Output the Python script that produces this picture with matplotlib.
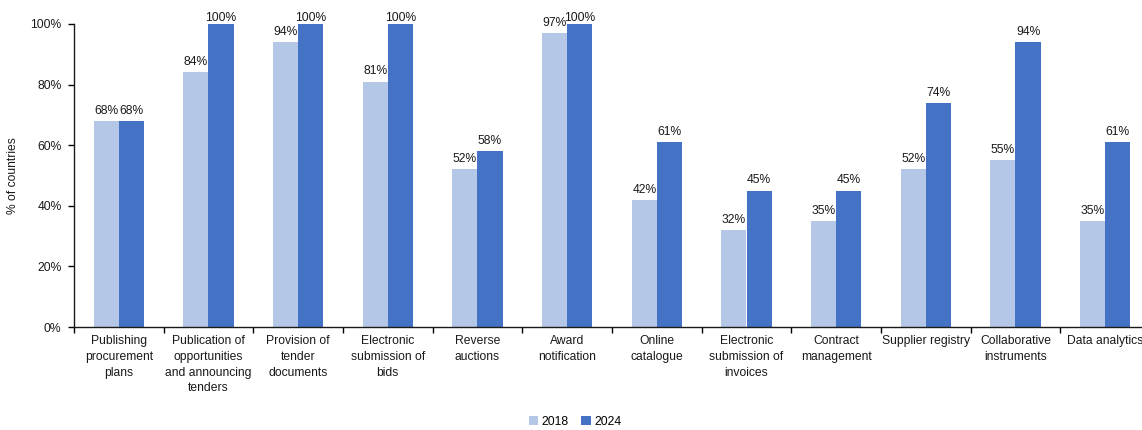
import matplotlib
matplotlib.use("Agg")
import matplotlib.pyplot as plt
import numpy as np

categories = [
    "Publishing\nprocurement\nplans",
    "Publication of\nopportunities\nand announcing\ntenders",
    "Provision of\ntender\ndocuments",
    "Electronic\nsubmission of\nbids",
    "Reverse\nauctions",
    "Award\nnotification",
    "Online\ncatalogue",
    "Electronic\nsubmission of\ninvoices",
    "Contract\nmanagement",
    "Supplier registry",
    "Collaborative\ninstruments",
    "Data analytics",
]
values_2018 = [68, 84, 94, 81, 52, 97, 42, 32, 35, 52, 55, 35]
values_2024 = [68, 100, 100, 100, 58, 100, 61, 45, 45, 74, 94, 61]
series_labels = ["2018", "2024"]
y_ticks = [0, 20, 40, 60, 80, 100]

plt.rcParams["font.family"] = ["Liberation Sans", "DejaVu Sans"]
fs = 8.7
plt.rcParams["font.size"] = fs

c2018 = "#B4C7E7"
c2024 = "#4472C4"
ink = "#1a1a1a"

fig = plt.figure(figsize=(11.42, 4.30), dpi=100)
ax = fig.add_axes([74 / 1142, 1 - 327 / 430, (1150 - 74) / 1142, (327 - 24) / 430])

x = np.arange(len(categories))
w = 0.28
b1 = ax.bar(x - w / 2, values_2018, w, color=c2018, label=series_labels[0])
b2 = ax.bar(x + w / 2, values_2024, w, color=c2024, label=series_labels[1])

for bars, vals in ((b1, values_2018), (b2, values_2024)):
    for rect, v in zip(bars, vals):
        ax.annotate(f"{v}%", (rect.get_x() + rect.get_width() / 2, v),
                    xytext=(0, 3 if v < 100 else 0), textcoords="offset points",
                    ha="center", va="bottom", fontsize=fs, color=ink)

ax.set_xlim(-0.5, len(categories) - 0.5)
ax.set_ylim(0, 100)
ax.set_yticks(y_ticks)
ax.set_yticklabels([f"{t}%" for t in y_ticks])
ax.set_xticks(x)
ax.set_xticklabels(categories, linespacing=1.4)
ax.set_xticks(np.arange(-0.5, len(categories)), minor=True)
ax.tick_params(axis="x", which="major", length=0, pad=6)
ax.tick_params(axis="x", which="minor", length=4, direction="out", width=1)
ax.tick_params(axis="y", length=4, direction="out", width=1, pad=5)
for lab in ax.get_xticklabels() + ax.get_yticklabels():
    lab.set_color(ink)

for s in ("top", "right"):
    ax.spines[s].set_visible(False)
for s in ("left", "bottom"):
    ax.spines[s].set_color(ink)
    ax.spines[s].set_linewidth(1)

ax.set_ylabel("% of countries", fontsize=fs, color=ink, labelpad=8)

fig.legend(handles=[b1, b2], labels=series_labels, loc="center",
           bbox_to_anchor=(575 / 1142, 1 - 422 / 430), ncol=2, frameon=False,
           handlelength=0.8, handleheight=0.8, handletextpad=0.3, columnspacing=1.0,
           fontsize=fs)

fig.savefig("out.png", dpi=100)
